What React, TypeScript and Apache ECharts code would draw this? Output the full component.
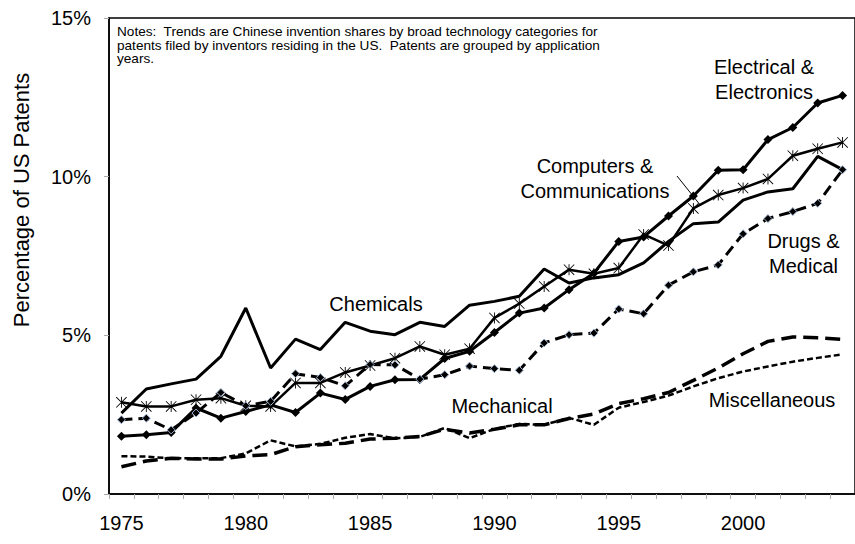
import React, { useEffect, useRef } from "react";
import * as echarts from "echarts";

const years = [
  "1975", "1976", "1977", "1978", "1979", "1980", "1981", "1982", "1983", "1984",
  "1985", "1986", "1987", "1988", "1989", "1990", "1991", "1992", "1993", "1994",
  "1995", "1996", "1997", "1998", "1999", "2000", "2001", "2002", "2003", "2004",
];

const chemicals = [2.55, 3.31, 3.47, 3.62, 4.34, 5.86, 3.97, 4.88, 4.55, 5.41, 5.13, 5.02, 5.41, 5.28, 5.95, 6.07, 6.23, 7.09, 6.65, 6.81, 6.91, 7.28, 7.96, 8.52, 8.57, 9.26, 9.52, 9.62, 10.64, 10.22];
const electrical = [1.82, 1.87, 1.94, 2.71, 2.39, 2.6, 2.81, 2.57, 3.18, 2.98, 3.39, 3.6, 3.61, 4.27, 4.5, 5.09, 5.7, 5.86, 6.44, 6.96, 7.96, 8.1, 8.76, 9.39, 10.2, 10.22, 11.17, 11.55, 12.32, 12.56];
const computers = [2.89, 2.76, 2.76, 2.97, 3.02, 2.78, 2.76, 3.5, 3.5, 3.83, 4.05, 4.28, 4.65, 4.39, 4.58, 5.55, 6.0, 6.54, 7.07, 6.94, 7.12, 8.18, 7.83, 9.0, 9.42, 9.64, 9.93, 10.66, 10.88, 11.08];
const drugs = [2.34, 2.39, 2.02, 2.55, 3.2, 2.78, 2.92, 3.79, 3.67, 3.41, 4.08, 4.07, 3.62, 3.76, 4.03, 3.95, 3.9, 4.76, 5.02, 5.07, 5.83, 5.68, 6.58, 7.0, 7.22, 8.2, 8.68, 8.9, 9.16, 10.22];
const mechanical = [0.86, 1.04, 1.13, 1.1, 1.1, 1.2, 1.24, 1.49, 1.55, 1.6, 1.73, 1.76, 1.81, 2.04, 1.92, 2.04, 2.18, 2.18, 2.38, 2.52, 2.85, 3.0, 3.2, 3.58, 3.97, 4.42, 4.81, 4.95, 4.92, 4.87];
const miscellaneous = [1.19, 1.18, 1.12, 1.13, 1.13, 1.28, 1.69, 1.5, 1.58, 1.77, 1.89, 1.75, 1.8, 2.08, 1.76, 2.05, 2.21, 2.18, 2.4, 2.18, 2.72, 2.9, 3.1, 3.39, 3.65, 3.86, 4.02, 4.17, 4.29, 4.4];

const yTicks = { min: 0, max: 15, interval: 5 };

const notes =
  "Notes:  Trends are Chinese invention shares by broad technology categories for\npatents filed by inventors residing in the US.  Patents are grouped by application\nyears.";

const FONT = 'Arial, "Liberation Sans", sans-serif';

const ASTERISK =
  "path://M9.2,0L10.8,0L10.8,20L9.2,20Z M0,1.1L1.1,0L20,18.9L18.9,20Z M18.9,0L20,1.1L1.1,20L0,18.9Z";

export default function App() {
  const ref = useRef<HTMLDivElement>(null);

  useEffect(() => {
    if (!ref.current) return;
    const chart = echarts.init(ref.current, null, { renderer: "svg" });

    const labelStyle = (text: string, x: number, y: number) => ({
      type: "text",
      x,
      y,
      style: {
        text,
        fill: "#000",
        font: `20px ${FONT}`,
        align: "center",
        verticalAlign: "middle",
        lineHeight: 25,
      },
      z: 100,
    });

    const option: any = {
      animation: false,
      backgroundColor: "#fff",
      grid: {
        left: 109,
        top: 18,
        width: 753,
        height: 476,
        show: true,
        borderColor: "#000",
        borderWidth: 1.5,
        backgroundColor: "transparent",
      },
      xAxis: {
        type: "category",
        data: years,
        boundaryGap: true,
        axisLine: { lineStyle: { color: "#000", width: 1.5 } },
        axisTick: { show: true, interval: 0, length: 5, lineStyle: { color: "#aaa", width: 1 } },
        axisLabel: {
          interval: 4,
          color: "#000",
          fontSize: 20,
          fontFamily: FONT,
          margin: 19,
        },
        splitLine: { show: false },
      },
      yAxis: {
        type: "value",
        min: yTicks.min,
        max: yTicks.max,
        interval: yTicks.interval,
        axisLine: { show: true, lineStyle: { color: "#000", width: 1.5 } },
        axisTick: { show: true, length: 5, lineStyle: { color: "#aaa", width: 1 } },
        axisLabel: {
          formatter: "{value}%",
          color: "#000",
          fontSize: 20,
          fontFamily: FONT,
          margin: 18,
        },
        splitLine: { show: false },
      },
      series: [
        {
          name: "Chemicals",
          type: "line",
          data: chemicals,
          symbol: "none",
          lineStyle: { color: "#000", width: 3 },
        },
        {
          name: "Electrical & Electronics",
          type: "line",
          data: electrical,
          symbol: "diamond",
          symbolSize: 9,
          itemStyle: { color: "#000" },
          lineStyle: { color: "#000", width: 3 },
        },
        {
          name: "Computers & Communications",
          type: "line",
          data: computers,
          symbol: ASTERISK,
          symbolSize: 11,
          itemStyle: { color: "#000" },
          lineStyle: { color: "#000", width: 2.5 },
        },
        {
          name: "Drugs & Medical",
          type: "line",
          data: drugs,
          symbol: "diamond",
          symbolSize: 8,
          itemStyle: { color: "#000", borderColor: "#9fb3cf", borderWidth: 1 },
          lineStyle: { color: "#000", width: 3, type: [11, 6] },
        },
        {
          name: "Mechanical",
          type: "line",
          data: mechanical,
          symbol: "none",
          lineStyle: { color: "#000", width: 3.5, type: [15, 7] },
        },
        {
          name: "Miscellaneous",
          type: "line",
          data: miscellaneous,
          symbol: "none",
          lineStyle: { color: "#000", width: 2.5, type: [6, 3] },
        },
      ],
      graphic: [
        {
          type: "text",
          x: 117,
          y: 25,
          style: {
            text: notes,
            fill: "#000",
            font: `13.6px ${FONT}`,
            lineHeight: 13.5,
            align: "left",
            verticalAlign: "top",
          },
          z: 100,
        },
        {
          type: "text",
          x: 21,
          y: 200,
          rotation: Math.PI / 2,
          style: {
            text: "Percentage of US Patents",
            fill: "#000",
            font: `22px ${FONT}`,
            align: "center",
            verticalAlign: "middle",
          },
          z: 100,
        },
        labelStyle("Chemicals", 376, 304),
        labelStyle("Electrical &\nElectronics", 764, 79.5),
        labelStyle("Computers &\nCommunications", 595, 178.5),
        labelStyle("Drugs &\nMedical", 803.5, 253),
        labelStyle("Mechanical", 502, 406),
        labelStyle("Miscellaneous", 772, 400),
        {
          type: "line",
          shape: { x1: 677, y1: 176, x2: 701, y2: 206 },
          style: { stroke: "#000", lineWidth: 1 },
          z: 100,
        },
      ],
    };

    chart.setOption(option);
    return () => chart.dispose();
  }, []);

  return (
    <div
      ref={ref}
      style={{ position: "fixed", left: 0, top: 0, width: 855, height: 544, background: "#fff" }}
    />
  );
}
